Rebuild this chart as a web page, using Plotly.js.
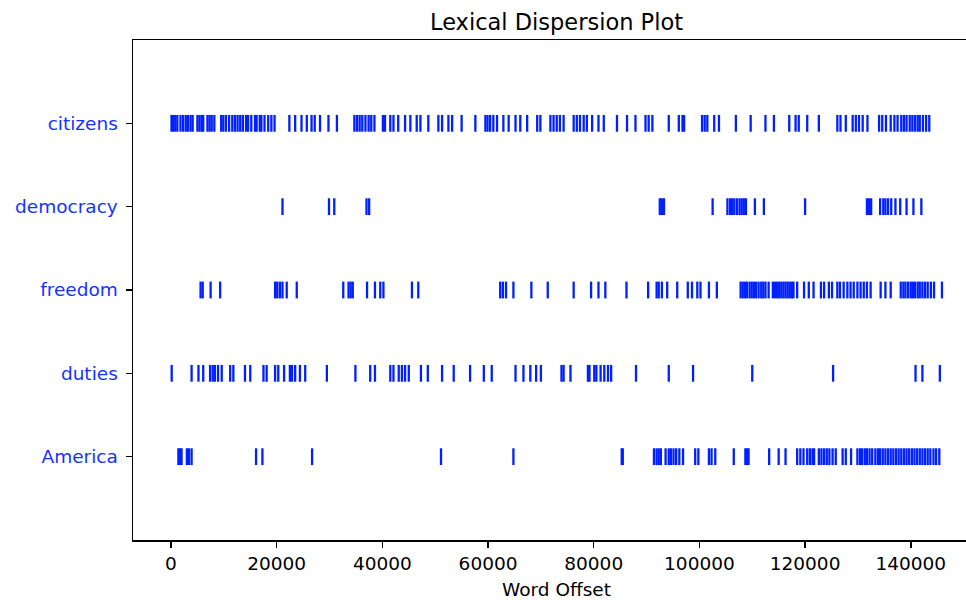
<!DOCTYPE html>
<html>
<head>
<meta charset="utf-8">
<script src="https://cdn.plot.ly/plotly-3.0.1.min.js"></script>
<style>
html,body{margin:0;padding:0;overflow:hidden;background:#fff;}
#chart{width:990px;height:600px;}
</style>
</head>
<body>
<div id="chart"></div>
<script>
// Words (bottom to top) and their word offsets
const words = ["America", "duties", "freedom", "democracy", "citizens"];

const citizens = [100, 400, 800, 1200, 1800, 2300, 2800, 3200, 3700, 4100, 5000, 5400, 5800, 6100, 6900, 7300, 7700, 8200,
  9500, 9900, 10400, 11000, 11600, 12100, 12600, 13100, 13600, 14200,
  14600, 15200, 15900, 16200, 16800, 17100, 17700, 18400, 19000, 19600,
  22400, 23500, 24700, 25700, 26600, 27200, 28200, 29800, 31400,
  34700, 35200, 35700, 36200, 36800, 37400, 37900, 38500, 40100, 40500, 41500, 42100, 43000, 44300, 45300, 46500, 47200,
  48700, 50600, 51300, 52500, 53200, 55000, 57600, 59500, 59900, 60400, 61000, 61700, 62900, 63900, 65200, 66100, 67400,
  69300, 69900, 71800, 72400, 73000, 73600, 74300, 76200, 76800, 77400, 78100, 78700, 79700, 80900, 81900, 84400, 86300,
  87900, 89800, 90400, 91100, 94200, 96100, 96800, 97100, 100500, 101000, 101500, 102800, 103700, 106900, 109700, 112500,
  114100, 117000, 118200, 118800, 120400, 122600, 126100, 126700, 127700, 129000, 129600, 130200, 130900, 131800,
  134000, 134600, 135300, 136200, 136900, 137500, 138200, 138700, 139200, 139800, 140300, 140800, 141300, 141700,
  142300, 142900, 143500];

const democracy = [21100, 29900, 30900, 37000, 37500, 92500, 92900, 93300, 102500, 105300, 105800, 106200, 106600,
  107100, 107600, 108000, 108400, 108800, 110500, 112200, 120000, 131700, 132100, 132500, 134200, 134800, 135200,
  135700, 136300, 137100, 138000, 139200, 140500, 142000];

const freedom = [5600, 6000, 7500, 9300, 19700, 20100, 20600, 21100, 21900, 23800, 32600, 33600, 34000, 34400, 37100,
  38600, 39600, 40200, 45600, 46800, 62300, 62800, 63400, 64800, 68200, 71300, 76200, 79500, 80900, 82200, 86200,
  90300, 91900, 92300, 92900, 93900, 95800, 97800, 98600, 99600, 100200, 101800, 103300,
  107800, 108200, 108600, 109000, 109500, 109900, 110300, 110700, 111200, 111700, 112100, 112500, 113100,
  113900, 114300, 114700, 115100, 115500, 115900, 116300, 116700, 117100, 117500, 117800, 118500,
  119800, 120700, 121600, 123000, 123600, 124500, 125100, 126100, 126600, 127300, 128000, 128600, 129200, 129900,
  130500, 131100, 131700, 132400, 134300, 135200, 136200, 138100, 138600, 139000, 139500, 140000, 140400, 140800,
  141300, 141700, 142200, 142700, 143200, 143800, 144400, 145900];

const duties = [130, 3900, 5200, 6100, 7400, 7900, 8300, 8900, 9600, 11200, 11800, 14000, 15000, 17500, 18100, 19700,
  20300, 21400, 22500, 22900, 23500, 24400, 25400, 29500, 34900, 37700, 38600, 41500, 42100, 43100, 43700, 44300,
  45000, 47300, 48600, 51300, 53500, 56600, 59200, 60700, 65200, 66700, 68000, 69100, 70000, 73900, 74300, 75600,
  78900, 79200, 80100, 80500, 81300, 82000, 82700, 83300, 88000, 94200, 98800, 110000, 125300, 140900, 142200, 145500];

const america = [1400, 1700, 2000, 3000, 3400, 3900, 16100, 17300, 26700, 51100, 64800, 85300, 85500, 91400, 91900,
  92300, 92700, 93600, 94200, 94600, 95100, 95600, 96200, 96900, 99200, 99800, 101800, 102300, 103000, 106500,
  108700, 109000, 109300, 113200, 115000, 116300, 118500, 119100, 119700, 120400, 120900, 121400, 121700, 122600,
  123100, 123600, 124100, 124600, 125200, 125800, 127100, 127700, 128700, 129900, 130400, 130800, 131300, 131700,
  132200, 132700, 133300, 133800, 134200, 134700, 135200, 135700, 136200, 136700, 137200, 137700, 138200, 138700,
  139200, 139700, 140200, 140700, 141200, 141700, 142200, 142700, 143200, 143700, 144300, 144800, 145400];

const xTicks = [0, 20000, 40000, 60000, 80000, 100000, 120000, 140000];

const series = [america, duties, freedom, democracy, citizens];
const markColor = "#0020ff";

const traces = series.map((offs, i) => ({
  type: "scatter",
  mode: "markers",
  x: offs,
  y: offs.map(() => i),
  name: words[i],
  showlegend: false,
  hoverinfo: "x+name",
  marker: {symbol: "line-ns", size: 12, color: markColor, line: {color: markColor, width: 2.3}}
}));

const font = "DejaVu Sans, sans-serif";
const layout = {
  width: 990, height: 600,
  margin: {l: 133, r: 10, t: 40, b: 60},
  paper_bgcolor: "#fff", plot_bgcolor: "#fff",
  title: {text: "Lexical Dispersion Plot", font: {family: font, size: 22.5, color: "#000"},
          xref: "paper", x: 0.5, xanchor: "center", y: 0.963, yref: "container", yanchor: "middle"},
  xaxis: {
    range: [-7190, 153100],
    tickvals: xTicks, ticktext: xTicks.map(String),
    showgrid: false, zeroline: false,
    showline: true, linecolor: "#000", linewidth: 1.5, mirror: true,
    ticks: "outside", ticklen: 6, tickwidth: 1.5, tickcolor: "#000",
    tickfont: {family: font, size: 18.5, color: "#000"},
    title: {text: "Word Offset", font: {family: font, size: 18.5, color: "#000"}, standoff: 10}
  },
  yaxis: {
    range: [-1, 5],
    tickvals: [0, 1, 2, 3, 4], ticktext: words,
    showgrid: false, zeroline: false,
    showline: true, linecolor: "#000", linewidth: 1.5, mirror: false,
    ticks: "outside", ticklen: 6, tickwidth: 1.5, tickcolor: "#000",
    ticklabelstandoff: 4,
    tickfont: {family: font, size: 18.5, color: "#1533ff"}
  }
};

Plotly.newPlot("chart", traces, layout, {displayModeBar: false, staticPlot: true});
</script>
</body>
</html>
